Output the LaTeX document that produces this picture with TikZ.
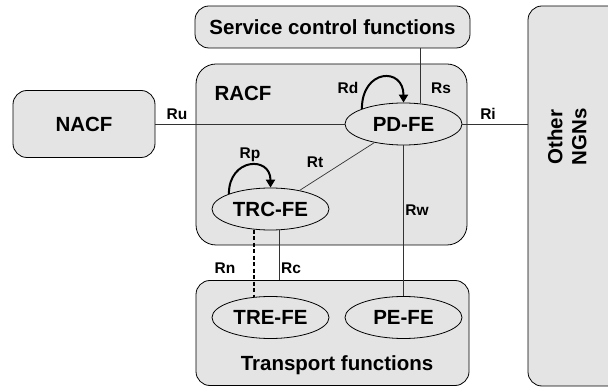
\documentclass[tikz,border=0pt]{standalone}
\usepackage{fontspec}
\setmainfont{Liberation Sans}
\usetikzlibrary{arrows.meta}
\usetikzlibrary{shapes.geometric}
\usetikzlibrary{positioning}
\definecolor{boxgray}{RGB}{228,228,228}

\begin{document}
\begin{tikzpicture}[x=1pt,y=-1pt,
    fbox/.style={draw, fill=boxgray, rounded corners=14pt, line width=0.8pt, inner sep=0pt,
      font=\bfseries\fontsize{20.5}{24}\selectfont},
    fe/.style={draw, fill=boxgray, ellipse, line width=0.8pt, minimum width=117pt,
      minimum height=42pt, inner sep=0pt, font=\bfseries\fontsize{20.5}{24}\selectfont},
    iflabel/.style={font=\bfseries\fontsize{15.5}{18}\selectfont},
    biglabel/.style={font=\bfseries\fontsize{20.5}{24}\selectfont},
    link/.style={line width=0.7pt, black!80},
    selfarrow/.style={line width=2pt, -{Triangle[length=8pt,width=9pt]}}]
    \useasboundingbox (0,0) rectangle (608,387);
    \clip (0,0) rectangle (608,387);

    % functional blocks
    \node[fbox, minimum width=275pt, minimum height=42pt] (scf) at (332.5,27) {Service control functions};
    \node[fbox, rounded corners=20pt, minimum width=271pt, minimum height=181pt] (racf) at (331.5,154.5) {};
    \node[fbox, minimum width=142pt, minimum height=67pt] (nacf) at (84,124) {NACF};
    \node[fbox, minimum width=100pt, minimum height=380pt] (ngn) at (578,196) {};
    \node[fbox, minimum width=273pt, minimum height=105pt] (tf) at (332.5,333) {};

    \node[biglabel] (racflbl) at (243,93) {RACF};
    \node[biglabel] (tflbl) at (337,365) {Transport functions};
    \node[biglabel, rotate=90, align=center] (ngnlbl) at (567,137) {Other\\NGNs};

    % functional entities
    \node[fe] (pd) at (403.5,124) {PD-FE};
    \node[fe] (trc) at (270.5,209) {TRC-FE};
    \node[fe] (tre) at (270.5,317.5) {TRE-FE};
    \node[fe] (pe) at (403.5,317.5) {PE-FE};

    % reference points
    \draw[link] (nacf.east) -- (pd.west);
    \draw[link] (pd.east) -- (pd.east -| ngn.west);
    \draw[link] (pd.51) -- (pd.51 |- scf.south);
    \draw[link] (pd) -- (trc);
    \draw[link] (pd.south) -- (pe.north);
    \draw[link] (trc.-68) -- (trc.-68 |- tf.north);
    \draw[link, dashed, line width=1.4pt, black, dash pattern=on 4pt off 2.5pt] (trc.-129) -- (tre.129);

    \draw[selfarrow] (pd.160) .. controls +(0,-40) and +(0,-36) .. (pd.north);
    \draw[selfarrow] (trc.160) .. controls +(0,-36) and +(0,-32) .. (trc.north);

    \node[iflabel] (ru) at (177,114) {Ru};
    \node[iflabel] (ri) at (488,114) {Ri};
    \node[iflabel] (rs) at (441,88) {Rs};
    \node[iflabel] (rd) at (348,88) {Rd};
    \node[iflabel] (rp) at (250,155) {Rp};
    \node[iflabel] (rt) at (315,162) {Rt};
    \node[iflabel] (rw) at (417,210) {Rw};
    \node[iflabel] (rn) at (225,268) {Rn};
    \node[iflabel] (rc) at (291,268) {Rc};
\end{tikzpicture}
\end{document}
